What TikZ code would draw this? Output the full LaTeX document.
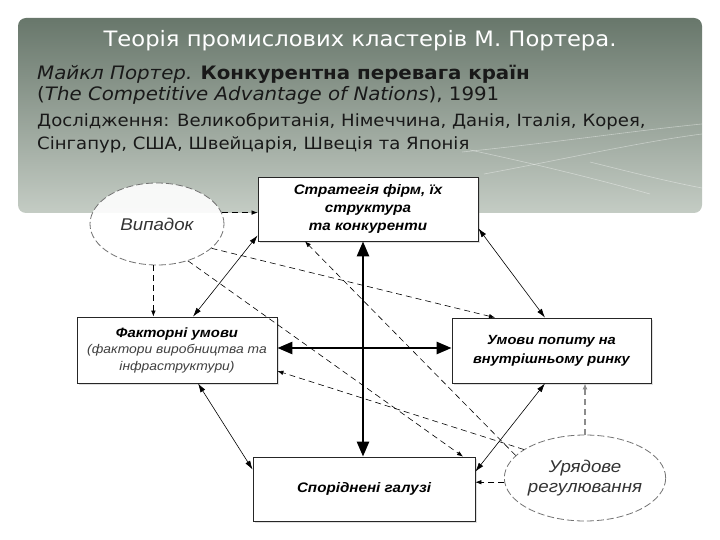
\documentclass[tikz,border=0pt]{standalone}
\usepackage{fontspec}
\setmainfont{Liberation Sans}[FakeStretch=1.1]
\newfontfamily\hdr{DejaVu Sans}[FakeStretch=1.07]
\usetikzlibrary{arrows.meta,shapes.geometric,shadows,calc}
\definecolor{hdrtop}{RGB}{104,119,107}
\definecolor{hdrbot}{RGB}{196,204,196}
\begin{document}
\begin{tikzpicture}[x=1pt,y=-1pt,
  box/.style={draw=black!85, fill=white, line width=0.8pt, align=center,
    drop shadow={shadow xshift=1.5pt, shadow yshift=-1.5pt, opacity=0.25},
    font=\fontsize{13.8}{18}\selectfont\bfseries\itshape},
  ell/.style={ellipse, draw=black!55, line width=0.8pt, dash pattern=on 7pt off 3pt,
    fill=white, fill opacity=0.9, text opacity=1, inner sep=0pt, align=center,
    text=black!80, font=\fontsize{17}{20}\selectfont\itshape},
  thickarr/.style={line width=2.6pt, {Triangle[length=15pt,width=12pt]}-{Triangle[length=15pt,width=12pt]}},
  thinarr/.style={line width=0.6pt, {Latex[length=9pt,width=5.5pt]}-{Latex[length=9pt,width=5.5pt]}},
  dasharr/.style={line width=0.6pt, dash pattern=on 6pt off 4pt, -{Latex[length=6pt,width=4.5pt]}},
  greyarr/.style={line width=1.6pt, draw=black!45, dash pattern=on 6pt off 4pt, -{Latex[length=6pt,width=5pt]}},
  hdrtext/.style={anchor=base west, inner sep=0pt, text=black!90}
]
\useasboundingbox (0,0) rectangle (720,540);
\fill[white] (0,0) rectangle (720,540);

% header panel
\shade[top color=hdrtop, bottom color=hdrbot, rounded corners=8pt] (18,18) rectangle (702,213);
\begin{scope}[white, line width=0.6pt, opacity=0.4]
  \draw (462,152) .. controls (560,142) and (640,130) .. (702,124);
  \draw (470,150) .. controls (540,165) and (600,180) .. (650,194);
  \draw (484,174) .. controls (560,160) and (640,142) .. (702,134);
  \draw (590,162) .. controls (630,172) and (670,182) .. (702,188);
\end{scope}

\node[anchor=base, inner sep=0pt, text=white, font=\hdr\fontsize{21.2}{25}\selectfont] (title) at (360,47) {Теорія промислових кластерів М. Портера.};
\node[hdrtext, font=\hdr\fontsize{18.5}{22}\selectfont] (l1) at (37,80) {\itshape Майкл Портер. \upshape\bfseries Конкурентна перевага країн};
\node[hdrtext, font=\hdr\fontsize{18.5}{22}\selectfont] (l2) at (37,101) {(\textit{The Competitive Advantage of Nations}), 1991};
\node[hdrtext, font=\hdr\fontsize{16.9}{21}\selectfont] (l3) at (37,127) {Дослідження: Великобританія, Німеччина, Данія, Італія, Корея,};
\node[hdrtext, font=\hdr\fontsize{16.9}{21}\selectfont] (l4) at (37,150) {Сінгапур, США, Швейцарія, Швеція та Японія};

% nodes
\node[box, minimum width=220pt, minimum height=64pt] (T) at (368,209)
  {Стратегія фірм, їх\\структура\\та конкуренти};
\node[box, minimum width=200pt, minimum height=66pt, font=\fontsize{12.6}{16.5}\selectfont\itshape] (L) at (177,350)
  {{\bfseries\fontsize{13.5}{16.5}\selectfont Факторні умови}\\{\color{black!75}(фактори виробництва та}\\{\color{black!75}інфраструктури)}};
\node[box, minimum width=199pt, minimum height=65pt, font=\fontsize{13.3}{19}\selectfont\bfseries\itshape] (R) at (551.5,350.5)
  {Умови попиту на\\внутрішньому ринку};
\node[box, minimum width=222pt, minimum height=64pt] (B) at (364,489)
  {Споріднені галузі};
\node[ell, minimum width=134pt, minimum height=82pt] (C) at (157,224) {Випадок};
\node[ell, minimum width=134pt, minimum height=86pt] (G) at (585,478) {Урядове\\регулювання};

% thick cross
\coordinate (vx) at (363,348);
\draw[thickarr] (T.south -| vx) -- (B.north -| vx);
\draw[thickarr] (L.east |- vx) -- (R.west |- vx);

% thin double arrows
\draw[thinarr] ([yshift=6pt]T.south west) -- ([xshift=16pt]L.north);
\draw[thinarr] ([yshift=13pt]T.south east) -- ([xshift=-6.5pt]R.north);
\draw[thinarr] ([xshift=21pt]L.south) -- ([yshift=-13pt]B.north west);
\draw[thinarr] ([xshift=-6.5pt]R.south) -- ([yshift=-15pt]B.north east);

% dashed arrows from "Випадок"
\draw[dasharr] (C.10) -- (T.west |- C.10);
\draw[dasharr] (C.265) -- (C.265 |- L.north);
\draw[dasharr] (C.336) -- ([xshift=-56.5pt]R.north);
\draw[dasharr] (C.310) -- ([xshift=99pt]B.north);

% dashed arrows from "Урядове регулювання"
\draw[dasharr] (G.162) -- ([xshift=-63pt]T.south);
\draw[dasharr] (G.155) -- ([yshift=-21pt]L.east);
\draw[dasharr] (G.183) -- (B.east |- G.183);
\draw[greyarr] (G.north) -- (G.north |- R.south);
\end{tikzpicture}
\end{document}
